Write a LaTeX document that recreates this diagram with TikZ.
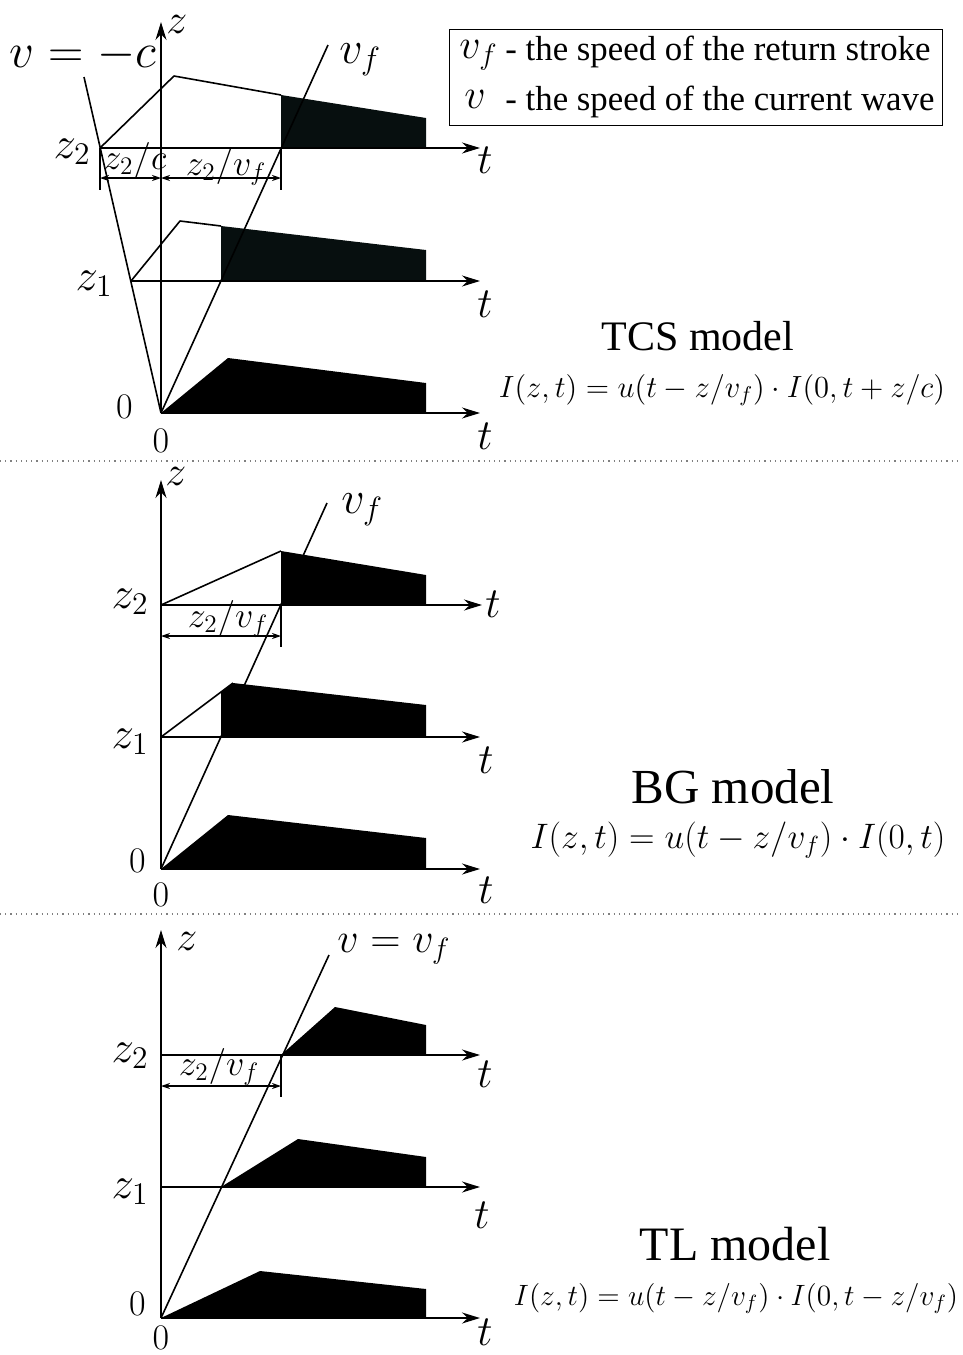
\RequirePackage{fix-cm}
\documentclass[tikz,border=0pt]{standalone}
\usepackage[no-math]{fontspec}
\newfontfamily\timesfont{Liberation Serif}
\usetikzlibrary{arrows.meta}
\begin{document}
\begin{tikzpicture}[x=0.5pt,y=-0.5pt,
  ln/.style={line width=0.8pt, line join=round},
  axis/.style={line width=0.8pt,-{Stealth[length=9pt,width=5.5pt]}},
  dimline/.style={line width=0.6pt,{Stealth[length=4.5pt,width=3pt]}-{Stealth[length=4.5pt,width=3pt]}},
  tickline/.style={line width=0.6pt},
  wave/.style={fill=black, draw=none},
  wavedark/.style={fill=wavecol, draw=none},
  sep/.style={dotted, gray, line width=0.6pt},
  lbl/.style={inner sep=0pt, font=\fontsize{22.5}{26}\selectfont},
  vlbl/.style={inner sep=0pt, font=\fontsize{23}{27}\selectfont},
  biglbl/.style={inner sep=0pt, font=\fontsize{24.5}{28}\selectfont},
  zlbl/.style={inner sep=0pt, font=\fontsize{21}{24}\selectfont},
  zerolbl/.style={inner sep=0pt, font=\fontsize{18}{21}\selectfont},
  tlbl/.style={inner sep=0pt, font=\fontsize{21.5}{25}\selectfont},
  dimlbl/.style={inner sep=0pt, font=\fontsize{18}{21}\selectfont},
  legtxt/.style={inner sep=0pt, font=\timesfont\fontsize{17.4}{20}\selectfont},
  legmath/.style={inner sep=0pt, font=\fontsize{21}{24}\selectfont},
  title/.style={inner sep=0pt, anchor=base, font=\timesfont\fontsize{#1}{#1}\selectfont},
  formula/.style={inner sep=0pt, anchor=base, font=\fontsize{#1}{#1}\selectfont}
]
\definecolor{wavecol}{RGB}{7,15,15}
\useasboundingbox (0,0) rectangle (963,1355);

% separators
\coordinate (s1a) at (0,461); \coordinate (s1b) at (957,461);
\coordinate (s2a) at (0,914); \coordinate (s2b) at (957,914);
\draw[sep] (s1a) -- (s1b);
\draw[sep] (s2a) -- (s2b);

% ================= TCS panel =================
\coordinate (O1) at (161,413);
\coordinate (Z1tip) at (161,22);
\coordinate (T1a) at (100,148); \coordinate (T1ae) at (480,148);
\coordinate (T1b) at (131,281); \coordinate (T1be) at (480,281);
\coordinate (T1ce) at (480,413);
\coordinate (C1top) at (84,77);
\coordinate (F1top) at (328,45);

\draw[ln] (100,148) -- (174,76) -- (281,95);
\fill[wavedark] (281,95) -- (426,118) -- (426,148) -- (281,148) -- cycle;
\draw[ln] (131,281) -- (180,221) -- (221,226);
\fill[wavedark] (221,226) -- (426,250) -- (426,281) -- (221,281) -- cycle;
\fill[wave] (161,413) -- (228,358) -- (426,383) -- (426,413) -- cycle;

\draw[ln] (C1top) -- (O1);
\draw[ln] (O1) -- (F1top);
\draw[axis] (O1) -- (Z1tip);
\draw[axis] (T1a) -- (T1ae);
\draw[axis] (T1b) -- (T1be);
\draw[axis] (O1) -- (T1ce);

\coordinate (d1a) at (100,148); \coordinate (d1a2) at (100,190);
\coordinate (d1b) at (281,148); \coordinate (d1b2) at (281,190);
\coordinate (d1l) at (100,178); \coordinate (d1m) at (161,178); \coordinate (d1r) at (281,178);
\draw[tickline] (d1a) -- (d1a2);
\draw[tickline] (d1b) -- (d1b2);
\draw[dimline] (d1l) -- (d1m);
\draw[dimline] (d1m) -- (d1r);

\node[biglbl, anchor=base] (vmc) at (83,67) {$v=-c$};
\node[zlbl, anchor=base west] (z1lab) at (166,33) {$z$};
\node[vlbl, anchor=base west] (vf1) at (339,63) {$v_f$};
\node[lbl, anchor=base east] (z2a) at (91,158) {$z_2$};
\node[lbl, anchor=base east] (z1a) at (113,290) {$z_1$};
\node[zerolbl, anchor=base east] (zA) at (133,418) {$0$};
\node[zerolbl, anchor=base] (zB) at (161,452) {$0$};
\node[tlbl, anchor=base west] (tA1) at (477,173) {$t$};
\node[tlbl, anchor=base west] (tA2) at (477,317) {$t$};
\node[tlbl, anchor=base west] (tA3) at (477,449) {$t$};
\node[dimlbl, anchor=base] (dA1) at (135,169) {$z_2/c$};
\node[dimlbl, anchor=base] (dA2) at (226,175) {$z_2/v_f$};

% legend
\node[draw, line width=0.6pt, inner sep=0pt, minimum width=246.5pt, minimum height=48pt, anchor=north west] (legend) at (449,29) {};
\node[legmath, anchor=base west] (lg1v) at (459,58) {$v_f$};
\node[legtxt, anchor=base west] (lg1t) at (505,60) {- the speed of the return stroke};
\node[legmath, anchor=base west] (lg2v) at (464,108) {$v$};
\node[legtxt, anchor=base west] (lg2t) at (505,110) {- the speed of the current wave};

\node[title=21] (tcs) at (698,350) {TCS model};
\node[formula=15.3] (tcsf) at (722,397) {$I(z,t)=u(t-z/v_f)\cdot I(0,t+z/c)$};

% ================= BG panel =================
\coordinate (O2) at (161,869);
\coordinate (Z2tip) at (161,480);
\coordinate (B2a) at (161,605); \coordinate (B2ae) at (482,605);
\coordinate (B2b) at (161,737); \coordinate (B2be) at (480,737);
\coordinate (B2ce) at (480,869);
\coordinate (F2top) at (327,503);

\draw[ln] (161,605) -- (281,551);
\fill[wave] (281,551) -- (426,575) -- (426,605) -- (281,605) -- cycle;
\draw[ln] (161,737) -- (233,683);
\fill[wave] (221,737) -- (221,692) -- (233,683) -- (426,705) -- (426,737) -- cycle;
\fill[wave] (161,869) -- (228,815) -- (426,838) -- (426,869) -- cycle;

\draw[ln] (O2) -- (F2top);
\draw[axis] (O2) -- (Z2tip);
\draw[axis] (B2a) -- (B2ae);
\draw[axis] (B2b) -- (B2be);
\draw[axis] (O2) -- (B2ce);

\coordinate (d2b) at (281,605); \coordinate (d2b2) at (281,647);
\coordinate (d2l) at (161,636); \coordinate (d2r) at (281,636);
\draw[tickline] (d2b) -- (d2b2);
\draw[dimline] (d2l) -- (d2r);

\node[zlbl, anchor=base west] (z2lab) at (165,485) {$z$};
\node[vlbl, anchor=base west] (vf2) at (341,513) {$v_f$};
\node[lbl, anchor=base east] (z2b) at (149,608) {$z_2$};
\node[lbl, anchor=base east] (z1b) at (149,748) {$z_1$};
\node[zerolbl, anchor=base east] (zC) at (146,872) {$0$};
\node[zerolbl, anchor=base] (zD) at (161,906) {$0$};
\node[tlbl, anchor=base west] (tB1) at (485,617) {$t$};
\node[tlbl, anchor=base west] (tB2) at (478,773) {$t$};
\node[tlbl, anchor=base west] (tB3) at (478,903) {$t$};
\node[dimlbl, anchor=base] (dB) at (228,627) {$z_2/v_f$};

\node[title=24.5] (bg) at (733,803) {BG model};
\node[formula=17.7] (bgf) at (738,848) {$I(z,t)=u(t-z/v_f)\cdot I(0,t)$};

% ================= TL panel =================
\coordinate (O3) at (161,1318);
\coordinate (Z3tip) at (161,930);
\coordinate (L3a) at (161,1055); \coordinate (L3ae) at (480,1055);
\coordinate (L3b) at (161,1187); \coordinate (L3be) at (480,1187);
\coordinate (L3ce) at (480,1318);
\coordinate (F3top) at (329,955);

\fill[wave] (281,1055) -- (335,1007) -- (426,1025) -- (426,1055) -- cycle;
\fill[wave] (221,1187) -- (298,1139) -- (426,1157) -- (426,1187) -- cycle;
\fill[wave] (161,1318) -- (260,1271) -- (426,1289) -- (426,1318) -- cycle;

\draw[ln] (O3) -- (F3top);
\draw[axis] (O3) -- (Z3tip);
\draw[axis] (L3a) -- (L3ae);
\draw[axis] (L3b) -- (L3be);
\draw[axis] (O3) -- (L3ce);

\coordinate (d3b) at (281,1055); \coordinate (d3b2) at (281,1097);
\coordinate (d3l) at (161,1086); \coordinate (d3r) at (281,1086);
\draw[tickline] (d3b) -- (d3b2);
\draw[dimline] (d3l) -- (d3r);

\node[zlbl, anchor=base west] (z3lab) at (176,950) {$z$};
\node[zlbl, anchor=base west] (vv3) at (337,952) {$v=v_f$};
\node[lbl, anchor=base east] (z2c) at (149,1062) {$z_2$};
\node[lbl, anchor=base east] (z1c) at (149,1198) {$z_1$};
\node[zerolbl, anchor=base east] (zE) at (146,1315) {$0$};
\node[zerolbl, anchor=base] (zF) at (161,1349) {$0$};
\node[tlbl, anchor=base west] (tC1) at (477,1087) {$t$};
\node[tlbl, anchor=base west] (tC2) at (474,1228) {$t$};
\node[tlbl, anchor=base west] (tC3) at (477,1345) {$t$};
\node[dimlbl, anchor=base] (dC) at (219,1075) {$z_2/v_f$};

\node[title=24] (tl) at (735,1260) {TL model};
\node[formula=14.7] (tlf) at (736,1305) {$I(z,t)=u(t-z/v_f)\cdot I(0,t-z/v_f)$};
\end{tikzpicture}
\end{document}
